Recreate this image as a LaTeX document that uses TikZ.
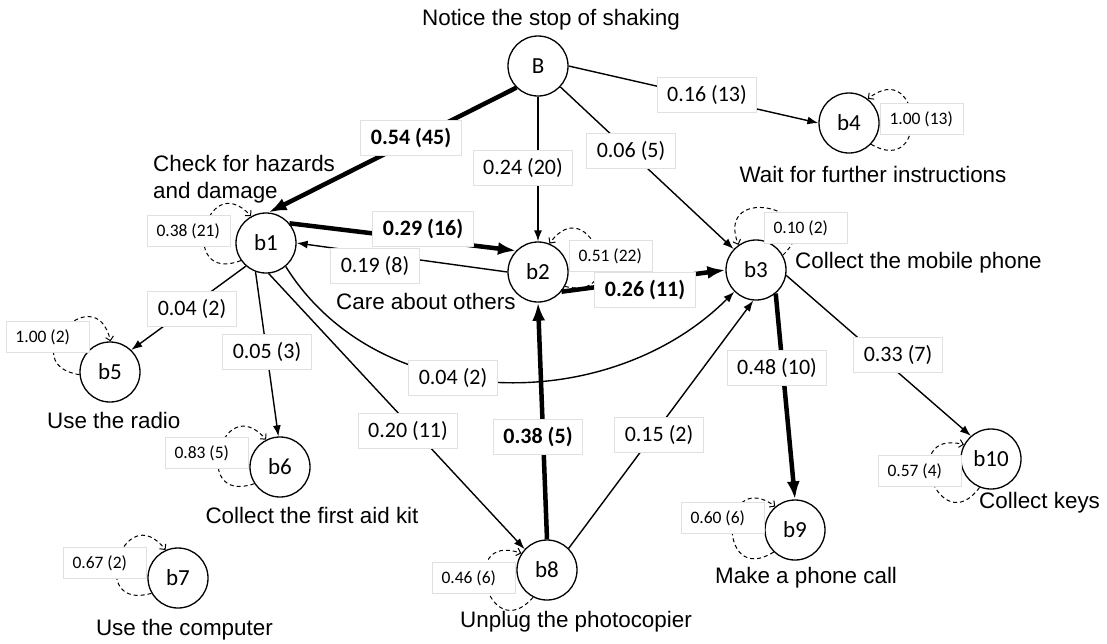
\documentclass[tikz,border=0pt]{standalone}
\usepackage{fontspec}
\setmainfont{Liberation Sans}
\newfontfamily\calib{Carlito}
\usetikzlibrary{arrows.meta}

\tikzset{
	state/.style={draw,circle,line width=1.3pt,minimum size=60pt,inner sep=0pt,font=\calib\fontsize{23}{27}\selectfont},
	trans/.style={line width=1.4pt,-{Latex[length=11pt,width=8pt]}},
	strong/.style={line width=4.5pt,-{Latex[length=18pt,width=13pt]}},
	selfloop/.style={line width=1pt,dash pattern=on 4pt off 3pt,distance=68pt,-{Straight Barb[length=4pt,width=8pt]}},
	prob/.style={fill=white,draw=black!12,line width=0.8pt,inner xsep=10pt,minimum height=35pt,font=\calib\fontsize{22}{26}\selectfont},
	bprob/.style={prob,font=\calib\bfseries\fontsize{22}{26}\selectfont},
	stay/.style={fill=white,draw=black!12,line width=0.8pt,inner xsep=9pt,text width=65pt,align=flush left,minimum height=31pt,font=\calib\fontsize{17.5}{20}\selectfont},
	act/.style={inner sep=0pt,font=\fontsize{22.4}{27}\selectfont}
}

\begin{document}
\begin{tikzpicture}[x=1pt,y=-1pt]
	\useasboundingbox (0,0) rectangle (1107,643);

	\node[state] (B) at (538,66) {B};
	\node[state] (b1) at (266,243) {b1};
	\node[state] (b2) at (538,272) {b2};
	\node[state] (b3) at (756,270) {b3};
	\node[state] (b4) at (849,123) {b4};
	\node[state] (b5) at (110,372) {b5};
	\node[state] (b6) at (280,467) {b6};
	\node[state] (b7) at (178,578) {b7};
	\node[state] (b8) at (547,570) {b8};
	\node[state] (b9) at (795,530) {b9};
	\node[state] (b10) at (991,459) {b10};

	% transitions
	\draw[strong] (B.225) -- (b1.85);
	\draw[trans] (B) -- (b2);
	\draw[trans] (B) -- (b3);
	\draw[trans] (B.east) -- (b4.west);
	\draw[strong] (b1.40) -- (b2.136);
	\draw[trans] (b2.west) -- (b1.east);
	\draw[strong] (b2.-40) -- (b3.west);
	\draw[trans] (b1.229) -- (b5.46);
	\draw[trans] (b1.250) -- (b6.93);
	\draw[trans] (b1.-85) -- (b8.137);
	\draw[trans] (b1.-50) to[out=-58,in=225] (b3.225);
	\draw[strong] (b8.north) -- (b2.south);
	\draw[trans] (b8.45) -- (b3.265);
	\draw[strong] (b3.-50) -- (b9.north);
	\draw[trans] (b3.-10) -- (b10.131);

	% staying
	\draw[selfloop] (b1.215) to[out=201,in=133] (b1.119);
	\draw[selfloop] (b2.-28) to[out=-14,in=54] (b2.68);
	\draw[selfloop] (b3.29) to[out=43,in=111] (b3.125);
	\draw[selfloop] (b4.-44) to[out=-30,in=38] (b4.52);
	\draw[selfloop] (b5.185) to[out=171,in=103] (b5.89);
	\draw[selfloop] (b6.213) to[out=199,in=131] (b6.117);
	\draw[selfloop] (b7.210) to[out=196,in=128] (b7.114);
	\draw[selfloop] (b8.243) to[out=229,in=161] (b8.147);
	\draw[selfloop] (b9.226) to[out=212,in=144] (b9.130);
	\draw[selfloop] (b10.248) to[out=234,in=166] (b10.152);

	\node[bprob] (p1) at (411,138) {0.54 (45)};
	\node[prob] (p2) at (523,168) {0.24 (20)};
	\node[prob] (p3) at (631,151) {0.06 (5)};
	\node[prob] (p4) at (707,95) {0.16 (13)};
	\node[bprob] (p5) at (423,229) {0.29 (16)};
	\node[prob] (p6) at (375,266) {0.19 (8)};
	\node[bprob] (p7) at (645,290) {0.26 (11)};
	\node[prob] (p8) at (192,309) {0.04 (2)};
	\node[prob] (p9) at (267,352) {0.05 (3)};
	\node[prob] (p10) at (453,378) {0.04 (2)};
	\node[prob] (p11) at (408,431) {0.20 (11)};
	\node[bprob] (p12) at (538,437) {0.38 (5)};
	\node[prob] (p13) at (659,435) {0.15 (2)};
	\node[prob] (p14) at (777,368) {0.48 (10)};
	\node[prob] (p15) at (898,355) {0.33 (7)};

	\node[stay] (s1) at (189,231) {0.38 (21)};
	\node[stay] (s2) at (611,256) {0.51 (22)};
	\node[stay] (s3) at (806,228) {0.10 (2)};
	\node[stay] (s4) at (922,119) {1.00 (13)};
	\node[stay] (s5) at (48,337) {1.00 (2)};
	\node[stay] (s6) at (207,453) {0.83 (5)};
	\node[stay] (s7) at (105,563) {0.67 (2)};
	\node[stay] (s8) at (474,578) {0.46 (6)};
	\node[stay] (s9) at (723,518) {0.60 (6)};
	\node[stay] (s10) at (920,471) {0.57 (4)};

	\node[act,anchor=base] (tB) at (551,25) {Notice the stop of shaking};
	\node[act,anchor=north west,align=flush left] (t1) at (153,155) {Check for hazards\\and damage};
	\node[act,anchor=base west] (t2) at (336,309) {Care about others};
	\node[act,anchor=base west] (t3) at (795,268) {Collect the mobile phone};
	\node[act,anchor=base] (t4) at (873,182) {Wait for further instructions};
	\node[act,anchor=base west] (t5) at (47,428) {Use the radio};
	\node[act,anchor=base] (t6) at (312,523) {Collect the first aid kit};
	\node[act,anchor=base east] (t7) at (273,635) {Use the computer};
	\node[act,anchor=base west] (t8) at (460,627) {Unplug the photocopier};
	\node[act,anchor=base west] (t9) at (715,583) {Make a phone call};
	\node[act,anchor=base west] (t10) at (979,508) {Collect keys};
\end{tikzpicture}
\end{document}
